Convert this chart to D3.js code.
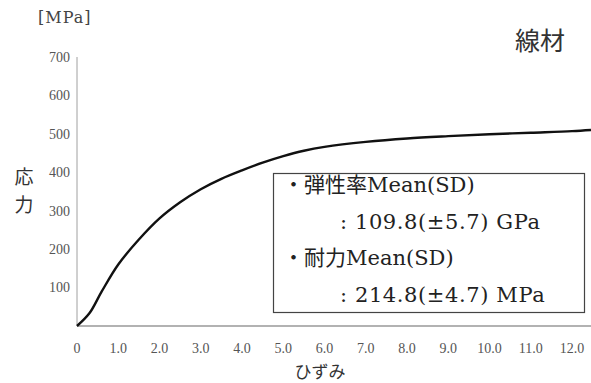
<!DOCTYPE html>
<html><head><meta charset="utf-8">
<script src="https://cdn.jsdelivr.net/npm/d3@7"></script>
<style>body{margin:0;background:#fff}
.serif{font-family:"Liberation Serif","DejaVu Serif",serif}
.dserif{font-family:"DejaVu Serif","Noto Sans CJK JP",serif}
.sans{font-family:"Noto Sans CJK JP",sans-serif}
</style>
</head><body>
<svg id="c" width="591" height="383"></svg>
<script>
const strain = [0, 0.3, 0.6, 1.0, 1.5, 2.0, 2.5, 3.0, 3.5, 4.0, 4.5, 5.0, 5.5, 6.0, 7.0, 8.0, 9.0, 10.0, 11.0, 12.0, 12.46];
const stress = [0, 33, 90, 160, 225, 280, 322, 356, 383, 405, 425, 442, 456, 466, 479, 488, 494, 499, 503, 507, 510];
const xTicks = [0, 1, 2, 3, 4, 5, 6, 7, 8, 9, 10, 11, 12];
const xTickLabels = ["0", "1.0", "2.0", "3.0", "4.0", "5.0", "6.0", "7.0", "8.0", "9.0", "10.0", "11.0", "12.0"];
const yTicks = [100, 200, 300, 400, 500, 600, 700];
const yLabelChars = ["応", "力"];
const boxLines = ["・弾性率Mean(SD)", ": 109.8(±5.7) GPa", "・耐力Mean(SD)", ": 214.8(±4.7) MPa"];

const svg = d3.select("#c");
const x = d3.scaleLinear().domain([0, 12.46]).range([77, 591]);
const y = d3.scaleLinear().domain([0, 700]).range([326, 57]);

svg.append("line").attr("x1", x(0)).attr("x2", x(0)).attr("y1", y(700)).attr("y2", y(0))
  .attr("stroke", "#a0a0a0").attr("stroke-width", 1);
svg.append("line").attr("x1", x(0)).attr("x2", 591).attr("y1", y(0)).attr("y2", y(0))
  .attr("stroke", "#666").attr("stroke-width", 1.2);

svg.append("g").selectAll("text").data(yTicks).join("text")
  .attr("class", "serif")
  .attr("x", 70).attr("y", d => y(d)).attr("dy", "0.35em")
  .attr("text-anchor", "end").attr("font-size", 14)
  .attr("fill", "#555").text(d => d);

svg.append("g").selectAll("text").data(xTicks).join("text")
  .attr("class", "serif")
  .attr("x", d => x(d)).attr("y", 348).attr("dy", "0.35em")
  .attr("text-anchor", "middle").attr("font-size", 14)
  .attr("fill", "#555").text((d, i) => xTickLabels[i]);

const pts = strain.map((s, i) => [s, stress[i]]);
svg.append("path").datum(pts)
  .attr("d", d3.line().x(d => x(d[0])).y(d => y(d[1])).curve(d3.curveCatmullRom))
  .attr("fill", "none").attr("stroke", "#111").attr("stroke-width", 2.4);

svg.append("text").attr("class", "dserif").attr("x", 38).attr("y", 17).attr("dy", "0.35em")
  .attr("font-size", 16).attr("letter-spacing", 1).attr("fill", "#444").text("[MPa]");

svg.append("text").attr("class", "sans").attr("x", 540).attr("y", 41).attr("dy", "0.35em")
  .attr("text-anchor", "middle").attr("font-size", 25).attr("fill", "#333").text("線材");

svg.append("g").selectAll("text").data(yLabelChars).join("text")
  .attr("class", "sans").attr("text-anchor", "middle")
  .attr("font-size", 19).attr("fill", "#333")
  .attr("x", 24).attr("y", (d, i) => 177 + i * 28).attr("dy", "0.35em").text(d => d);

svg.append("text").attr("class", "sans").attr("x", 320).attr("y", 372).attr("dy", "0.35em")
  .attr("text-anchor", "middle").attr("font-size", 17).attr("fill", "#333").text("ひずみ");

svg.append("rect").attr("x", 273.5).attr("y", 173.5).attr("width", 311).attr("height", 139)
  .attr("fill", "#fff").attr("stroke", "#444").attr("stroke-width", 1.2);
svg.append("g").selectAll("text").data(boxLines).join("text")
  .attr("class", "dserif")
  .attr("x", (d, i) => i % 2 ? 340 : 283).attr("y", (d, i) => 185 + i * 36.5).attr("dy", "0.35em")
  .attr("font-size", 21).attr("letter-spacing", (d, i) => i % 2 ? 0.6 : 0)
  .attr("fill", "#222").text(d => d);
</script>
</body></html>
